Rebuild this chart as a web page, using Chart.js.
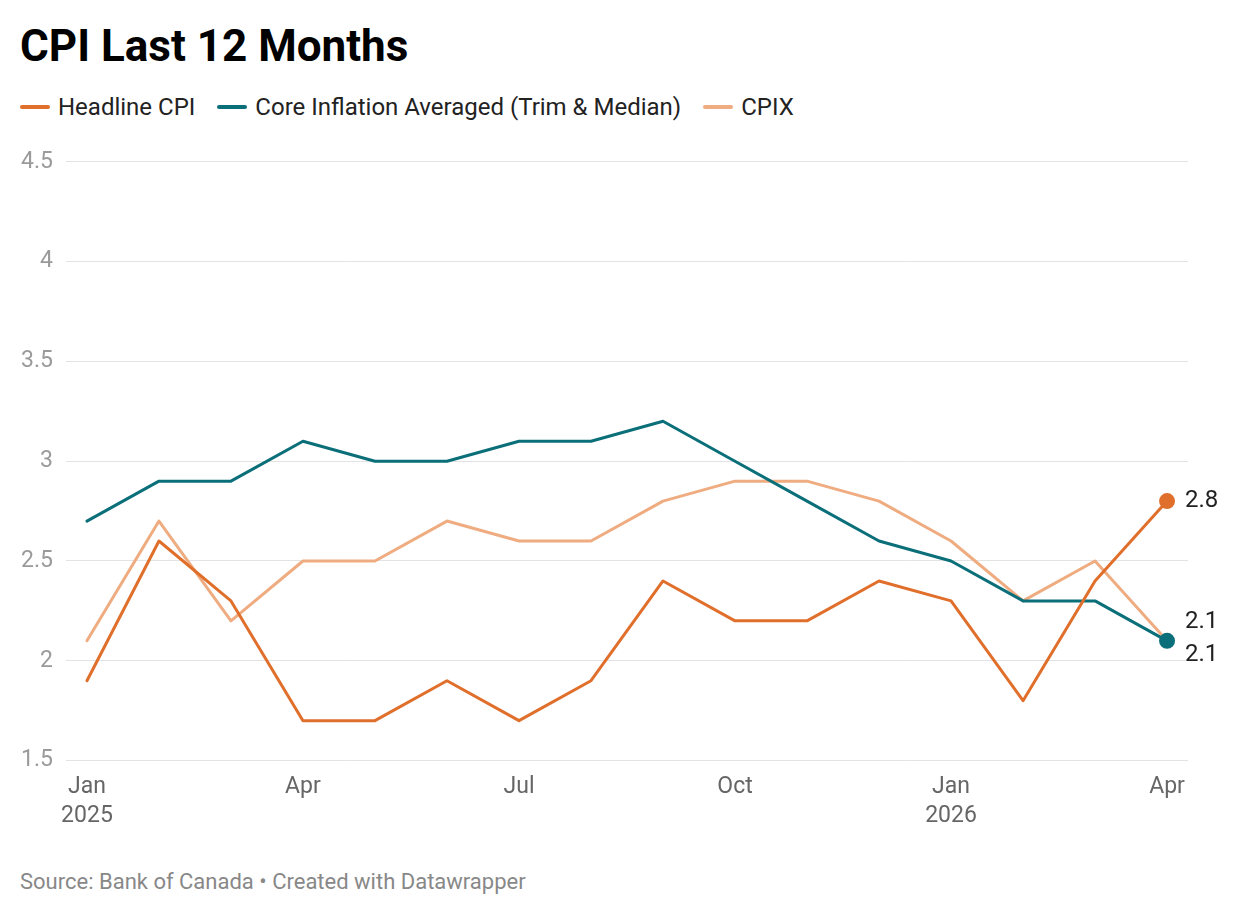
<!DOCTYPE html>
<html>
<head>
<meta charset="utf-8">
<script src="https://cdn.jsdelivr.net/npm/chart.js@4"></script>
<style>
  body { margin: 0; background: #fff; font-family: Roboto, sans-serif; }
  #wrap { position: relative; width: 1240px; height: 916px; }
  #title { position: absolute; left: 20px; top: 21px; font-size: 44px; font-weight: 700; color: #000; line-height: 50px; }
  #legend { position: absolute; left: 20px; top: 93px; display: flex; font-size: 24px; color: #222; line-height: 28px; }
  .item { display: flex; align-items: center; margin-right: 22px; }
  .sw { width: 30px; height: 4px; border-radius: 2px; margin-right: 8px; }
  #chartBox { position: absolute; left: 0; top: 135px; width: 1240px; height: 700px; }
  #source { position: absolute; left: 20px; top: 869px; font-size: 22px; color: #888; line-height: 26px; }
</style>
</head>
<body>
<div id="wrap">
  <div id="title">CPI Last 12 Months</div>
  <div id="legend"></div>
  <div id="chartBox"><canvas id="myChart"></canvas></div>
  <div id="source">Source: Bank of Canada • Created with Datawrapper</div>
</div>
<script>
// Jan 2025 .. Apr 2026
const months = ['Jan 2025', 'Feb 2025', 'Mar 2025', 'Apr 2025', 'May 2025', 'Jun 2025', 'Jul 2025', 'Aug 2025',
  'Sep 2025', 'Oct 2025', 'Nov 2025', 'Dec 2025', 'Jan 2026', 'Feb 2026', 'Mar 2026', 'Apr 2026'];
const headline = [1.9, 2.6, 2.3, 1.7, 1.7, 1.9, 1.7, 1.9, 2.4, 2.2, 2.2, 2.4, 2.3, 1.8, 2.4, 2.8];
const core = [2.7, 2.9, 2.9, 3.1, 3.0, 3.0, 3.1, 3.1, 3.2, 3.0, 2.8, 2.6, 2.5, 2.3, 2.3, 2.1];
const cpix = [2.1, 2.7, 2.2, 2.5, 2.5, 2.7, 2.6, 2.6, 2.8, 2.9, 2.9, 2.8, 2.6, 2.3, 2.5, 2.1];
const seriesNames = ['Headline CPI', 'Core Inflation Averaged (Trim & Median)', 'CPIX'];
const xTickLabels = { 'Jan 2025': ['Jan', '2025'], 'Apr 2025': 'Apr', 'Jul 2025': 'Jul', 'Oct 2025': 'Oct', 'Jan 2026': ['Jan', '2026'], 'Apr 2026': 'Apr' };
const yTicks = [1.5, 2, 2.5, 3, 3.5, 4, 4.5];

const colors = ['#e06f2c', '#0b6f7a', '#efac80'];
const last = months.length - 1;

const legend = document.getElementById('legend');
seriesNames.forEach((name, i) => {
  const el = document.createElement('div');
  el.className = 'item';
  el.innerHTML = '<span class="sw" style="background:' + colors[i] + '"></span>' + name;
  legend.appendChild(el);
});

const toPoints = arr => arr.map((v, i) => ({ x: i, y: v }));

// value labels next to the last point of each line
const endLabels = {
  id: 'endLabels',
  afterDatasetsDraw(chart) {
    const c = chart.ctx;
    c.save();
    c.font = '24px Roboto';
    c.fillStyle = '#222';
    c.textBaseline = 'middle';
    chart.data.datasets.forEach((ds, i) => {
      const pt = chart.getDatasetMeta(i).data[last];
      c.fillText(String(ds.data[last].y), pt.x + 18, pt.y + ds.labelShift);
    });
    c.restore();
  }
};

new Chart(document.getElementById('myChart'), {
  type: 'line',
  data: {
    datasets: [{
      label: seriesNames[0],
      data: toPoints(headline),
      borderColor: colors[0],
      backgroundColor: colors[0],
      borderWidth: 3,
      pointRadius: ctx => ctx.dataIndex === last ? 6.5 : 0,
      labelShift: 0
    }, {
      label: seriesNames[1],
      data: toPoints(core),
      borderColor: colors[1],
      backgroundColor: colors[1],
      borderWidth: 3,
      pointRadius: ctx => ctx.dataIndex === last ? 6.5 : 0,
      labelShift: 14
    }, {
      label: seriesNames[2],
      data: toPoints(cpix),
      borderColor: colors[2],
      backgroundColor: colors[2],
      borderWidth: 3,
      pointRadius: 0,
      labelShift: -19
    }]
  },
  options: {
    responsive: true,
    maintainAspectRatio: false,
    animation: false,
    layout: { padding: { left: 20, right: 52, top: 6, bottom: 0 } },
    plugins: { legend: { display: false }, tooltip: { enabled: false } },
    elements: { line: { tension: 0, borderCapStyle: 'round', borderJoinStyle: 'round' } },
    scales: {
      x: {
        type: 'linear',
        min: -0.291,
        max: last + 0.291,
        grid: { display: false },
        border: { display: false },
        afterBuildTicks: axis => {
          axis.ticks = months.map((m, i) => ({ value: i })).filter(t => xTickLabels[months[t.value]]);
        },
        ticks: {
          autoSkip: false,
          maxRotation: 0,
          padding: 4,
          color: '#666',
          font: { family: 'Roboto', size: 23, lineHeight: 1.27 },
          callback: v => xTickLabels[months[v]] || ''
        }
      },
      y: {
        min: 1.5,
        max: 4.5,
        afterBuildTicks: axis => { axis.ticks = yTicks.map(v => ({ value: v })); },
        afterFit: axis => { axis.width = 46; },
        grid: { color: '#e3e3e3', lineWidth: 1, drawTicks: false },
        border: { display: false },
        ticks: {
          padding: 13,
          color: '#9a9a9a',
          font: { family: 'Roboto', size: 23 },
          callback: v => String(v)
        }
      }
    }
  },
  plugins: [endLabels]
});
</script>
</body>
</html>
